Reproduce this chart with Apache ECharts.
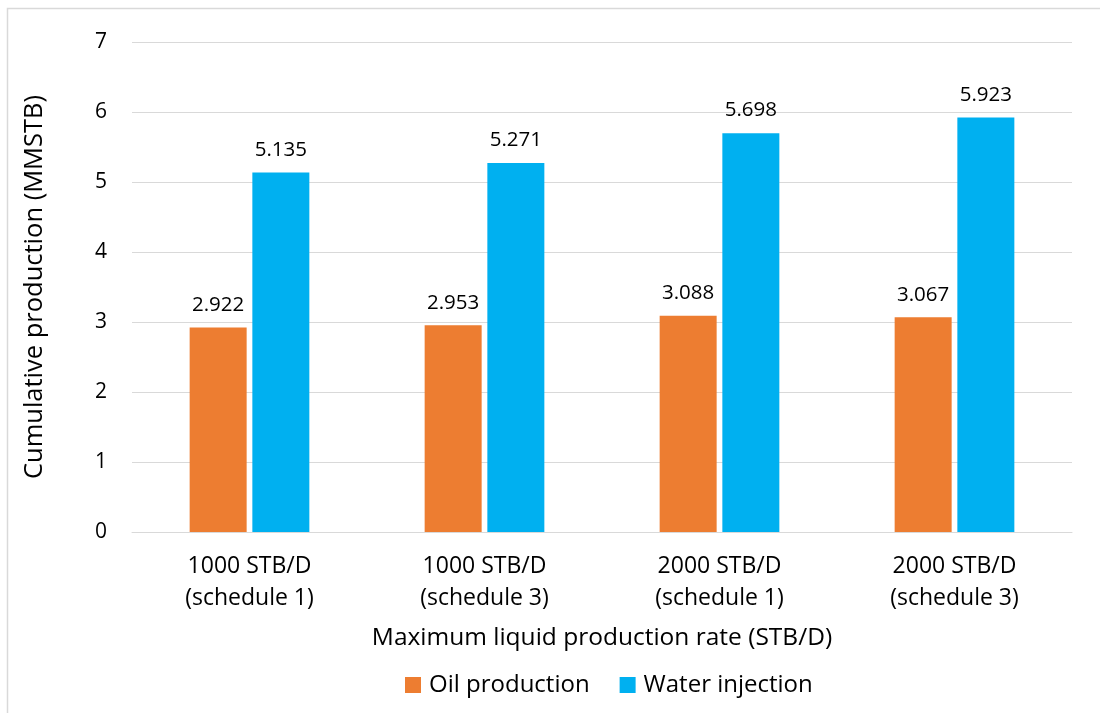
<!DOCTYPE html>
<html>
<head>
<meta charset="utf-8">
<script src="https://cdn.jsdelivr.net/npm/echarts@6/dist/echarts.min.js"></script>
<style>html,body{margin:0;padding:0;background:#fff;}#chart{width:1100px;height:713px;}</style>
</head>
<body>
<div id="chart"></div>
<script>
const categories = ['1000 STB/D\n(schedule 1)', '1000 STB/D\n(schedule 3)', '2000 STB/D\n(schedule 1)', '2000 STB/D\n(schedule 3)'];
const oilProduction = [2.922, 2.953, 3.088, 3.067];
const waterInjection = [5.135, 5.271, 5.698, 5.923];
const yTicks = [0, 1, 2, 3, 4, 5, 6, 7];

const FONT = 'Open Sans';
const chart = echarts.init(document.getElementById('chart'));
chart.setOption({
  backgroundColor: '#fff',
  textStyle: { fontFamily: FONT, color: '#000' },
  graphic: [{
    type: 'rect', shape: { x: 7.5, y: 8.5, width: 1200, height: 800 },
    style: { fill: 'none', stroke: '#d9d9d9', lineWidth: 1.5 }, silent: true
  }],
  grid: { left: 132, right: 28, top: 42, bottom: 181, containLabel: false },
  legend: {
    left: 400, top: 668, itemWidth: 16, itemHeight: 16, itemGap: 30,
    icon: 'rect',
    textStyle: { fontFamily: FONT, fontSize: 24, color: '#000', padding: [0, 0, 0, 3] },
    data: ['Oil production', 'Water injection']
  },
  xAxis: {
    type: 'category', data: categories,
    axisLine: { lineStyle: { color: '#d9d9d9', width: 1 } },
    axisTick: { show: false },
    axisLabel: { fontFamily: FONT, fontSize: 23, color: '#000', lineHeight: 32, margin: 18 },
    name: 'Maximum liquid production rate (STB/D)', nameLocation: 'middle', nameGap: 94,
    nameTextStyle: { fontFamily: FONT, fontSize: 24.5, color: '#000' }
  },
  yAxis: {
    type: 'value', min: 0, max: 7, interval: 1,
    axisLine: { show: false }, axisTick: { show: false },
    splitLine: { lineStyle: { color: '#d9d9d9', width: 1 } },
    axisLabel: { fontFamily: FONT, fontSize: 21, color: '#000', margin: 25,
      formatter: v => yTicks.includes(v) ? String(v) : '' },
    name: 'Cumulative production (MMSTB)', nameLocation: 'middle', nameGap: 84, nameRotate: 90,
    nameTextStyle: { fontFamily: FONT, fontSize: 25.5, color: '#000' }
  },
  series: [
    { name: 'Oil production', type: 'bar', data: oilProduction, barWidth: 57, barGap: '10%',
      itemStyle: { color: '#ED7D31' },
      label: { show: true, position: 'top', distance: 12, fontFamily: FONT, fontSize: 20.5, color: '#000',
        formatter: p => p.value.toFixed(3) } },
    { name: 'Water injection', type: 'bar', data: waterInjection, barWidth: 57, barGap: '10%',
      itemStyle: { color: '#00B0F0' },
      label: { show: true, position: 'top', distance: 12, fontFamily: FONT, fontSize: 20.5, color: '#000',
        formatter: p => p.value.toFixed(3) } }
  ]
});
</script>
</body>
</html>
